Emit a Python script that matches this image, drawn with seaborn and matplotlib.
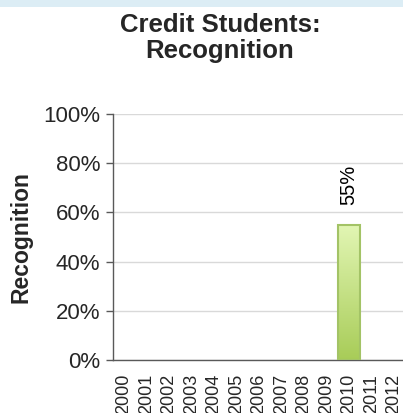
import numpy as np
import pandas as pd
import matplotlib
matplotlib.use('Agg')
import matplotlib.pyplot as plt
import matplotlib.patches as mpatches
from matplotlib.colors import LinearSegmentedColormap
import seaborn as sns

# chart data
years = [str(y) for y in range(2000, 2013)]
recognition = [np.nan] * 10 + [0.55] + [np.nan] * 2
yticks = [0, 0.2, 0.4, 0.6, 0.8, 1.0]

df = pd.DataFrame({'Year': years, 'Recognition': recognition})

sns.set_style('white')
plt.rcParams['font.family'] = ['Liberation Sans', 'DejaVu Sans']

fig = plt.figure(figsize=(4.03, 4.13), dpi=100)
ax = fig.add_axes([0.280, 0.128, 0.725, 0.596])

sns.barplot(data=df.dropna(), x='Year', y='Recognition', order=years,
            width=1.0, color='#c5e08a', edgecolor='#a3c366', linewidth=1.2,
            ax=ax, zorder=3)

# gradient fill on the bar
cmap = LinearSegmentedColormap.from_list('g', ['#a8cc58', '#e2f6b4'])
grad = np.linspace(0, 1, 256).reshape(-1, 1)
for p in ax.patches:
    h = p.get_height()
    if not np.isfinite(h) or h == 0:
        continue
    x0 = p.get_x()
    w = p.get_width()
    im = ax.imshow(grad, cmap=cmap, origin='lower', aspect='auto',
                   extent=[x0, x0 + w, 0, h], zorder=3.5)
    im.set_clip_path(p)
    edge = mpatches.Rectangle((x0, 0), w, h, fill=False, edgecolor='#a3c366',
                              linewidth=1.5, zorder=4)
    ax.add_patch(edge)
    ax.text(x0 + w / 2, h + 0.08, f'{h:.0%}', rotation=90, ha='center',
            va='bottom', fontsize=14.5, color='black')

ax.set_xlim(-0.5, len(years) - 0.5)
ax.set_ylim(0, 1)
ax.set_yticks(yticks)
ax.set_yticklabels([f'{v:.0%}' for v in yticks], fontsize=16)
ax.set_xticks(range(len(years)))
ax.set_xticklabels(years, rotation=90, fontsize=13)
ax.set_xticks(np.arange(-0.5, len(years)), minor=True)
ax.tick_params(axis='x', which='major', length=0, pad=10)
ax.tick_params(axis='x', which='minor', length=5, width=1, color='#595959', direction='out')
ax.tick_params(axis='y', length=5, width=1, color='#595959', direction='out', left=True, pad=4)

ax.yaxis.grid(True, color='#d9d9d9', linewidth=1, zorder=0)
ax.set_axisbelow(True)
for s in ['top', 'right']:
    ax.spines[s].set_visible(False)
for s in ['left', 'bottom']:
    ax.spines[s].set_color('#595959')
    ax.spines[s].set_linewidth(1)

ax.set_xlabel('')
ax.set_ylabel('Recognition', fontsize=16.5, fontweight='bold', labelpad=7.5)

fig.text(0.546, 1 - 13 / 413, 'Credit Students:\nRecognition', ha='center', va='top',
         fontsize=18.5, fontweight='bold', linespacing=1.1)

# light blue band at the top
fig.patches.append(mpatches.Rectangle((0, 1 - 7 / 413), 1, 7 / 413, transform=fig.transFigure,
                                      facecolor='#dcedf5', edgecolor='none'))

fig.savefig('out.png', dpi=100)
